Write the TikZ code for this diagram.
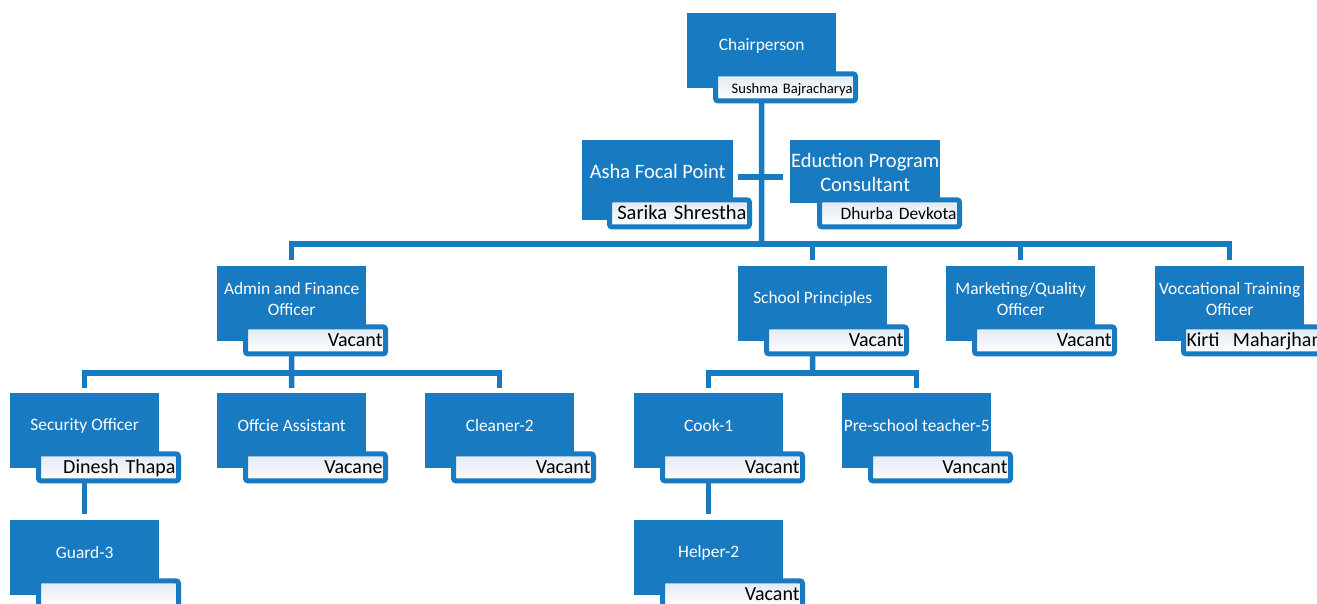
\documentclass[tikz,border=0pt]{standalone}
\usepackage{fontspec}
\setmainfont{Carlito}
\usetikzlibrary{backgrounds}
\definecolor{orgblue}{RGB}{24,122,192}
\definecolor{tabtint}{RGB}{224,233,244}
\begin{document}
\begin{tikzpicture}[
  x=1pt,y=1pt,
  box/.style={fill=orgblue,anchor=north west,minimum width=149pt,minimum height=75pt,inner sep=0pt},
  title/.style={text=white,align=center,font=\fontsize{17.4}{21}\selectfont,yshift=5pt},
  bigtitle/.style={title,font=\fontsize{20.5}{24}\selectfont},
  tab/.style={anchor=north west,draw=orgblue,line width=5pt,rounded corners=2.5pt,top color=tabtint,bottom color=white,minimum width=140pt,minimum height=27pt,text width=134pt,inner xsep=3pt,inner ysep=0pt,align=right,text height=16pt,text depth=3pt,font=\fontsize{20}{24}\selectfont},
  link/.style={draw=orgblue,line width=5.5pt},
]
\useasboundingbox (0,0) rectangle (1317,-604);

\node[box,label={[title]center:Chairperson}] (chair) at (687,-13) {};
\node[tab,font=\fontsize{14.6}{18}\selectfont] (chairname) at ([shift={(26,17)}]chair.south west) {Sushma Bajracharya};

\node[box,minimum width=151pt,minimum height=80pt,label={[bigtitle,yshift=4pt]center:Asha Focal Point}] (asha) at (582,-140) {};
\node[tab,font=\fontsize{20.5}{24}\selectfont] (ashaname) at ([shift={(25,23)}]asha.south west) {Sarika Shrestha};
\node[box,minimum width=150pt,minimum height=63pt,label={[bigtitle,yshift=-6pt]center:Eduction Program\\Consultant}] (edu) at (790,-140) {};
\node[tab,font=\fontsize{17.4}{21}\selectfont] (eduname) at ([shift={(27,6)}]edu.south west) {Dhurba Devkota};

\node[box,label={[title]center:Admin and Finance\\Officer}] (admin) at (217,-266) {};
\node[tab] (adminname) at ([shift={(26,17)}]admin.south west) {Vacant};
\node[box,label={[title]center:School Principles}] (school) at (738,-266) {};
\node[tab] (schoolname) at ([shift={(26,17)}]school.south west) {Vacant};
\node[box,label={[title]center:Marketing/Quality\\Officer}] (market) at (946,-266) {};
\node[tab] (marketname) at ([shift={(26,17)}]market.south west) {Vacant};
\node[box,label={[title]center:Voccational Training\\Officer}] (voc) at (1155,-266) {};
\node[tab] (vocname) at ([shift={(26,17)}]voc.south west) {\mbox{Kirti~~Maharjhan}};

\node[box,label={[title]center:Security Officer}] (security) at (10,-393) {};
\node[tab] (securityname) at ([shift={(26,17)}]security.south west) {Dinesh Thapa};
\node[box,label={[title]center:Offcie Assistant}] (office) at (217,-393) {};
\node[tab] (officename) at ([shift={(26,17)}]office.south west) {Vacane};
\node[box,label={[title]center:Cleaner-2}] (cleaner) at (425,-393) {};
\node[tab] (cleanername) at ([shift={(26,17)}]cleaner.south west) {Vacant};
\node[box,label={[title]center:Cook-1}] (cook) at (634,-393) {};
\node[tab] (cookname) at ([shift={(26,17)}]cook.south west) {Vacant};
\node[box,label={[title]center:Pre-school teacher-5}] (preschool) at (842,-393) {};
\node[tab] (preschoolname) at ([shift={(26,17)}]preschool.south west) {Vancant};

\node[box,label={[title]center:Guard-3}] (guard) at (10,-520) {};
\node[tab] (guardname) at ([shift={(26,17)}]guard.south west) {};
\node[box,label={[title]center:Helper-2}] (helper) at (634,-520) {};
\node[tab] (helpername) at ([shift={(26,17)}]helper.south west) {Vacant};

\coordinate (cross) at (761.5,-177);
\coordinate (bus) at (761.5,-244);
\coordinate (adminbus) at (291.5,-373);
\coordinate (schoolbus) at (812.5,-373);

\begin{scope}[on background layer]
\draw[link] (chair.south) -- (bus);
\draw[link,shorten <=5pt,shorten >=7pt] (asha.east |- cross) -- (edu.west |- cross);
\draw[link,shorten <=6pt,shorten >=6pt] (admin.north) |- (bus) -| (voc.north);
\draw[link,shorten >=6pt] (bus -| school.north) -- (school.north);
\draw[link,shorten >=6pt] (bus -| market.north) -- (market.north);
\draw[link] (admin.south) -- (adminbus);
\draw[link,shorten <=5pt,shorten >=5pt] (security.north) |- (adminbus) -| (cleaner.north);
\draw[link,shorten >=5pt] (adminbus) -- (office.north);
\draw[link] (school.south) -- (schoolbus);
\draw[link,shorten <=5pt,shorten >=5pt] (cook.north) |- (schoolbus) -| (preschool.north);
\draw[link,shorten >=6pt] (security.south) -- (guard.north);
\draw[link,shorten >=6pt] (cook.south) -- (helper.north);
\end{scope}
\end{tikzpicture}
\end{document}
